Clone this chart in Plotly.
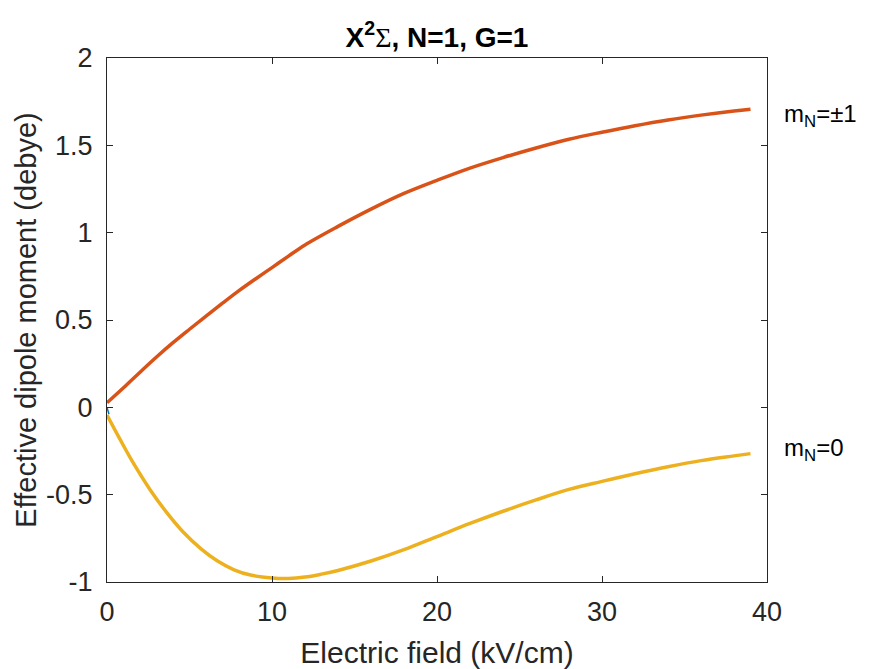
import plotly.graph_objects as go

field_pm1 = [0, 1, 2, 3, 4, 5, 6, 7, 8, 9, 10, 11, 12, 14, 16, 18, 20, 22, 24, 26, 28, 30,
             32, 34, 36, 38, 39]
dip_pm1 = [0.026, 0.112, 0.201, 0.288, 0.37, 0.447, 0.522, 0.596, 0.668, 0.735, 0.80, 0.866,
           0.93, 1.036, 1.135, 1.225, 1.30, 1.37, 1.43, 1.485, 1.535, 1.575, 1.612, 1.645,
           1.673, 1.697, 1.707]

field_0 = [0, 0.8, 1.6, 2.6, 3.6, 4.6, 5.7, 6.7, 7.7, 8.7, 10, 11, 12, 13, 14, 16, 18, 20,
           22, 24, 26, 28, 30, 32, 34, 36, 38, 39]
dip_0 = [-0.044, -0.185, -0.32, -0.47, -0.60, -0.712, -0.81, -0.88, -0.93, -0.96, -0.977,
         -0.98, -0.972, -0.955, -0.934, -0.88, -0.815, -0.74, -0.665, -0.595, -0.53, -0.47,
         -0.424, -0.38, -0.34, -0.305, -0.278, -0.265]

field_blue = [0, 0.12]
dip_blue = [0.0, -0.04]

label_names = ["m<sub>N</sub>=±1", "m<sub>N</sub>=0"]
label_y = [1.67, -0.24]

FONT = "Liberation Sans, Arial, sans-serif"
AX = "#262626"

fig = go.Figure()
fig.add_trace(go.Scatter(x=field_blue, y=dip_blue, mode="lines",
                         line=dict(color="#0072BD", width=1.5), showlegend=False))
fig.add_trace(go.Scatter(x=field_pm1, y=dip_pm1, mode="lines", line_shape="spline",
                         line=dict(color="#D95319", width=3.5), showlegend=False))
fig.add_trace(go.Scatter(x=field_0, y=dip_0, mode="lines", line_shape="spline",
                         line=dict(color="#EDB120", width=3.5), showlegend=False))

for name, yy in zip(label_names, label_y):
    fig.add_annotation(x=1.023, xref="paper", y=yy, yref="y", text=name, showarrow=False,
                       xanchor="left", yanchor="middle",
                       font=dict(family=FONT, size=24, color="black"))

fig.update_layout(
    width=878, height=669,
    margin=dict(l=107, r=111, t=58, b=87),
    paper_bgcolor="white", plot_bgcolor="white",
    font=dict(family=FONT, color=AX),
    title=dict(text="<b>X<sup>2</sup></b><span style=\"font-family:'Liberation Serif', serif\">Σ</span><b>, N=1, G=1</b>",
               x=0.5, xref="paper", xanchor="center", y=0.945, yanchor="middle",
               font=dict(family=FONT, size=28, color="black")),
    xaxis=dict(range=[0, 40], tickvals=[0, 10, 20, 30, 40], ticks="inside", ticklen=6,
               tickcolor=AX, showline=True, linecolor=AX, linewidth=1, mirror="ticks",
               showgrid=False, zeroline=False, tickfont=dict(size=27, color=AX),
               ticklabelstandoff=6, automargin=False,
               title=dict(text="Electric field (kV/cm)", font=dict(size=30, color=AX), standoff=17)),
    yaxis=dict(range=[-1, 2], tickvals=[-1, -0.5, 0, 0.5, 1, 1.5, 2],
               ticktext=["-1", "-0.5", "0", "0.5", "1", "1.5", "2"], ticks="inside", ticklen=6,
               tickcolor=AX, showline=True, linecolor=AX, linewidth=1, mirror="ticks",
               showgrid=False, zeroline=False, tickfont=dict(size=27, color=AX),
               ticklabelstandoff=8,
               title=dict(text="Effective dipole moment (debye)", font=dict(size=29, color=AX), standoff=0)),
)

fig.write_html("out.html")
